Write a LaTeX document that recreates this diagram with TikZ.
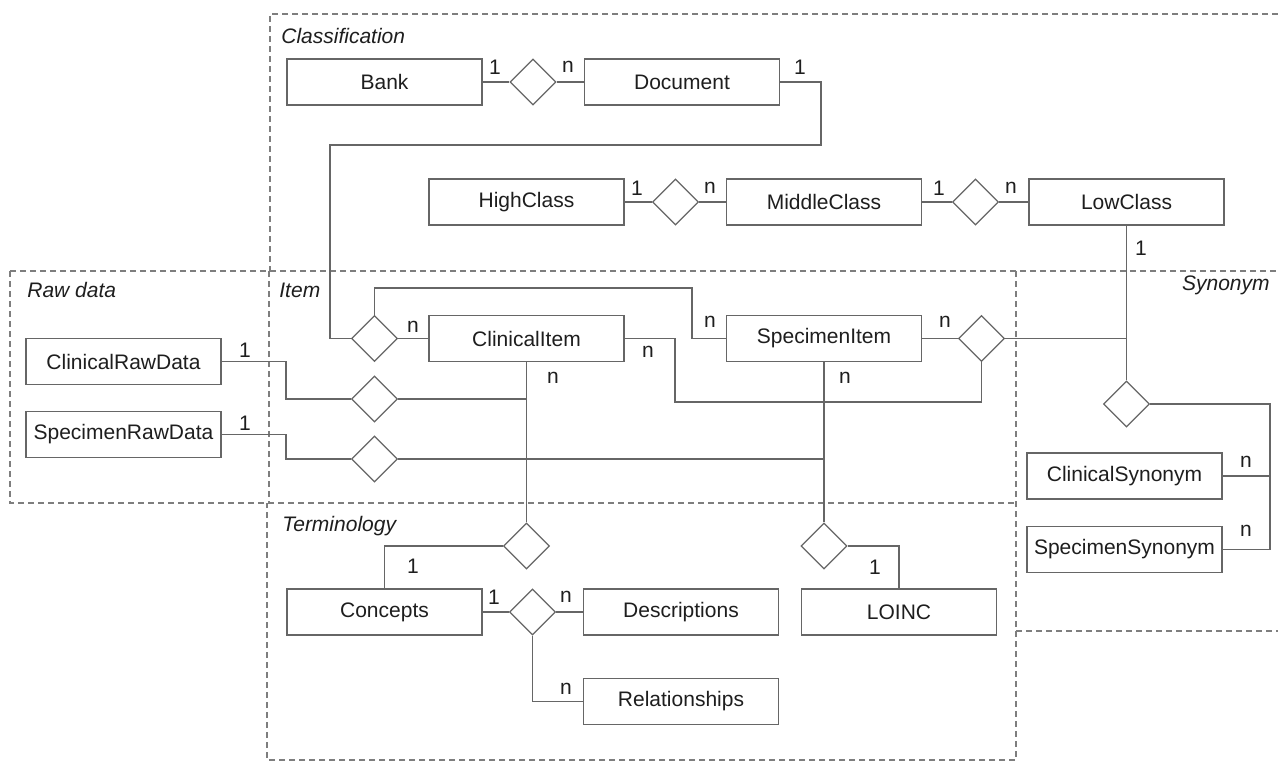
\documentclass[tikz,border=0pt]{standalone}
\usepackage{fontspec}
\setmainfont{Liberation Sans}
\usetikzlibrary{shapes.geometric}
\definecolor{linegray}{HTML}{666666}
\definecolor{zonegray}{HTML}{7E7E7E}
\definecolor{inkgray}{HTML}{1E1E1E}
\tikzset{
  entity/.style={draw=linegray, line width=0.6pt, fill=white, minimum width=97.5pt,
    minimum height=23pt, inner sep=0pt, text=inkgray, font=\fontsize{10.5}{12}\selectfont},
  rel/.style={draw=linegray, line width=0.6pt, fill=white, diamond, minimum width=23pt,
    minimum height=23pt, inner sep=0pt},
  conn/.style={draw=linegray, line width=0.6pt},
  zone/.style={draw=zonegray, line width=0.6pt, dash pattern=on 3pt off 2pt},
  card/.style={text=inkgray, font=\fontsize{10.5}{12}\selectfont, inner sep=0pt},
  zonetitle/.style={text=inkgray, font=\fontsize{10.5}{12}\selectfont\itshape, inner sep=0pt}
}
\begin{document}
\begin{tikzpicture}[x=0.5pt, y=-0.5pt]
\useasboundingbox (0,0) rectangle (1278,761);

% dashed zone borders
\draw[zone] (1278,14) -- (270,14) -- (270,271);
\draw[zone] (10,271) -- (1278,271);
\draw[zone] (10,271) -- (10,503) -- (1016,503);
\draw[zone] (269,271) -- (269,503);
\draw[zone] (1016,271) -- (1016,760) -- (267,760) -- (267,503);
\draw[zone] (1016,631) -- (1278,631);

% zone titles
\node[zonetitle, anchor=west] (tcls) at (281,36) {Classification};
\node[zonetitle, anchor=west] (traw) at (27,290) {Raw data};
\node[zonetitle, anchor=west] (titem) at (279,290) {Item};
\node[zonetitle, anchor=east] (tsyn) at (1270,285) {Synonym};
\node[zonetitle, anchor=west] (tterm) at (282,526) {Terminology};

% entities
\node[entity] (bank) at (384.5,82) {Bank};
\node[entity] (doc) at (682,82) {Document};
\node[entity] (high) at (526.5,202) {HighClass};
\node[entity] (mid) at (824,202) {MiddleClass};
\node[entity] (low) at (1126.5,202) {LowClass};
\node[entity] (crd) at (123.5,361.5) {ClinicalRawData};
\node[entity] (srd) at (123.5,434.5) {SpecimenRawData};
\node[entity] (ci) at (526.5,338.5) {ClinicalItem};
\node[entity] (si) at (824,338.5) {SpecimenItem};
\node[entity] (cs) at (1124.5,476) {ClinicalSynonym};
\node[entity] (ss) at (1124.5,549.5) {SpecimenSynonym};
\node[entity] (conc) at (384.5,612) {Concepts};
\node[entity] (desc) at (681,612) {Descriptions};
\node[entity] (rels) at (681,701.5) {Relationships};
\node[entity] (loinc) at (899,612) {LOINC};

% relationships
\node[rel] (dbank) at (533,82) {};
\node[rel] (dhigh) at (675.5,202) {};
\node[rel] (dmid) at (975.5,202) {};
\node[rel] (ditem) at (374.5,338.5) {};
\node[rel] (dcrd) at (374.5,399) {};
\node[rel] (dsrd) at (374.5,459) {};
\node[rel] (dsyn) at (981.5,338.5) {};
\node[rel] (dlow) at (1126.5,404) {};
\node[rel] (dct) at (526.5,546) {};
\node[rel] (dlo) at (824,546) {};
\node[rel] (dconc) at (532.5,612) {};

% bend points
\coordinate (kdoc) at (821,145);
\coordinate (kitem) at (330,145);
\coordinate (ktop) at (692,288);
\coordinate (kcrd) at (286,380);
\coordinate (ksrd) at (286,445);
\coordinate (kci) at (675,402);
\coordinate (ksyn) at (1270,440);

% connectors
\draw[conn] (bank) -- (dbank) -- (doc);
\draw[conn] (high) -- (dhigh) -- (mid);
\draw[conn] (mid) -- (dmid) -- (low);
\draw[conn] (doc.east) -| (kdoc) -- (kitem) |- (ditem.west);
\draw[conn] (ditem) -- (ci);
\draw[conn] (ditem.north) |- (ktop) |- (si.west);
\draw[conn] (crd.east) -| (kcrd) |- (dcrd.west);
\draw[conn] (dcrd.east) -- (dcrd.east -| ci.south);
\draw[conn] (srd.east) -| (ksrd) |- (dsrd.west);
\draw[conn] (dsrd.east) -- (dsrd.east -| si.south);
\draw[conn] (ci.south) -- (dct.north);
\draw[conn] (si.south) -- (dlo.north);
\draw[conn] (ci.east) -| (kci) -| (dsyn.south);
\draw[conn] (si) -- (dsyn);
\draw[conn] (dsyn.east) -- (dsyn.east -| low.south);
\draw[conn] (low.south) -- (dlow.north);
\draw[conn] (dlow.east) -| (ksyn) |- (ss.east);
\draw[conn] (cs.east) -- (cs.east -| ksyn);
\draw[conn] (dct.west) -| (conc.north);
\draw[conn] (dlo.east) -| (loinc.north);
\draw[conn] (conc) -- (dconc) -- (desc);
\draw[conn] (dconc.south) |- (rels.west);

% cardinalities
\node[card] (c1) at (495,67) {1};
\node[card] (c2) at (568,67) {n};
\node[card] (c3) at (800,67) {1};
\node[card] (c4) at (637,188) {1};
\node[card] (c5) at (710,188) {n};
\node[card] (c6) at (939,188) {1};
\node[card] (c7) at (1011,188) {n};
\node[card] (c8) at (1141,248) {1};
\node[card] (c9) at (413,327) {n};
\node[card] (c10) at (710,322) {n};
\node[card] (c11) at (945,322) {n};
\node[card] (c12) at (648,352) {n};
\node[card] (c13) at (553,378) {n};
\node[card] (c14) at (845,378) {n};
\node[card] (c15) at (245,350) {1};
\node[card] (c16) at (245,423) {1};
\node[card] (c17) at (1246,462) {n};
\node[card] (c18) at (1246,531) {n};
\node[card] (c19) at (413,566) {1};
\node[card] (c20) at (875,567) {1};
\node[card] (c21) at (494,597) {1};
\node[card] (c22) at (566,597) {n};
\node[card] (c23) at (566,689) {n};
\end{tikzpicture}
\end{document}
